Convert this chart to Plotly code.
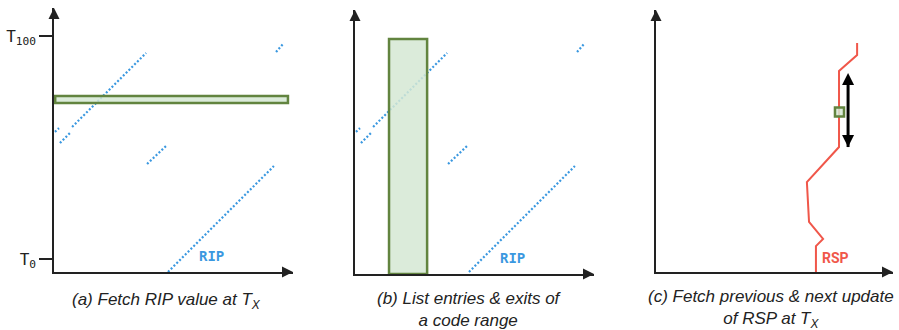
import plotly.graph_objects as go

W, H = 899, 330

# ---- data (address units on x, time units on y: T0 = 0, T100 = 100) ----
rip_seg_x = [[47.9, 92.4], [39.1, 47.5], [2.5, 6.7], [7.6, 38.7], [0.4, 2.1], [93.3, 96.6]]
rip_seg_t = [[-5.8, 41.7], [42.6, 51.1], [52.0, 56.5], [59.2, 92.4], [57.0, 58.7], [92.8, 96.9]]

rsp_x = [67.2, 67.2, 70.2, 64.3, 63.4, 70.2, 76.9, 76.9, 84.5, 84.5]
rsp_t = [-5.8, 5.8, 9.0, 16.6, 34.5, 42.6, 50.2, 84.3, 91.5, 96.9]

time_ticks = [0, 100]
time_tick_labels = ["T<sub>0</sub>", "T<sub>100</sub>"]

fetch_rip_x = [0.5, 98.3]      # (a) time window at Tx
fetch_rip_t = [70.0, 73.1]
code_range_x = [14.3, 30.3]    # (b) code range
code_range_t = [-6.7, 98.7]
rsp_query_x = [75.2, 79.0]     # (c) RSP at Tx
rsp_query_t = [63.9, 67.9]
rsp_prev_next_x = [80.7, 80.7]
rsp_prev_next_t = [50.2, 83.4]

captions = [
    "(a) Fetch RIP value at T<sub>X</sub>",
    "(b) List entries &amp; exits of<br>a code range",
    "(c) Fetch previous &amp; next update<br>of RSP at T<sub>X</sub>",
]

# ---- layout geometry (pixels) ----
PX_X, PX_T, T0_ROW = 2.38, 2.23, 259
panels = [  # origin x, right tip x, axis row, top tip y
    dict(x0=54, x1=293, yb=272, yt=8),
    dict(x0=355, x1=594, yb=274, yt=10),
    dict(x0=656, x1=893, yb=272, yt=10),
]

BLUE = "#3a98e0"
RED = "#f0574a"
GREEN_FILL = "rgba(213,232,212,0.85)"
GREEN_LINE = "#62843f"
AX = "#222222"

fig = go.Figure()
layout = dict(width=W, height=H, margin=dict(l=0, r=0, t=0, b=0, pad=0),
              paper_bgcolor="white", plot_bgcolor="rgba(0,0,0,0)", showlegend=False)

ranges = []
for i, p in enumerate(panels):
    sx = "" if i == 0 else str(i + 1)
    xr = [0, (p["x1"] - p["x0"]) / PX_X]
    yr = [(T0_ROW - p["yb"]) / PX_T, (T0_ROW - p["yt"]) / PX_T]
    ranges.append((xr, yr))
    xa = dict(domain=[p["x0"] / W, p["x1"] / W], range=xr,
              showline=True, linecolor=AX, linewidth=1.5, showgrid=False, zeroline=False,
              showticklabels=False, ticks="", fixedrange=True, anchor="y" + sx)
    ya = dict(domain=[(H - p["yb"]) / H, (H - p["yt"]) / H], range=yr,
              showline=True, linecolor=AX, linewidth=1.5, showgrid=False, zeroline=False,
              showticklabels=False, ticks="", fixedrange=True, anchor="x" + sx,
              automargin=False)
    if i == 0:
        ya.update(showticklabels=True, ticks="outside", ticklen=13, tickwidth=1.5,
                  tickcolor=AX, tickvals=time_ticks, ticktext=time_tick_labels,
                  tickfont=dict(family="DejaVu Sans Mono", size=16, color="#222"))
    layout["xaxis" + sx] = xa
    layout["yaxis" + sx] = ya

fig.update_layout(**layout)

annotations = []
shapes = []

# RIP traces in panels a and b
for i in (0, 1):
    sx = "" if i == 0 else str(i + 1)
    for xs, ts in zip(rip_seg_x, rip_seg_t):
        fig.add_trace(go.Scatter(x=xs, y=ts, mode="lines", xaxis="x" + sx, yaxis="y" + sx,
                                 line=dict(color=BLUE, width=2.2, dash="2px,2px"),
                                 hoverinfo="skip"))
    annotations.append(dict(x=66.0, y=1.4 if i == 0 else 0.4, xref="x" + sx, yref="y" + sx,
                            text="<b>RIP</b>", showarrow=False, xanchor="center", yanchor="middle",
                            font=dict(family="DejaVu Sans Mono", size=14, color=BLUE)))

# RSP trace in panel c
fig.add_trace(go.Scatter(x=rsp_x, y=rsp_t, mode="lines", xaxis="x3", yaxis="y3",
                         line=dict(color=RED, width=2), hoverinfo="skip"))
annotations.append(dict(x=75.6, y=0.4, xref="x3", yref="y3", text="<b>RSP</b>",
                        showarrow=False, xanchor="center", yanchor="middle",
                        font=dict(family="Roboto", size=14, color=RED)))

# highlight shapes
for xr_, yr_, r in ((fetch_rip_x, fetch_rip_t, ""), (code_range_x, code_range_t, "2"),
                    (rsp_query_x, rsp_query_t, "3")):
    shapes.append(dict(type="rect", xref="x" + r, yref="y" + r, x0=xr_[0], x1=xr_[1],
                       y0=yr_[0], y1=yr_[1], fillcolor=GREEN_FILL,
                       line=dict(color=GREEN_LINE, width=2.5), layer="above"))

# previous/next double arrow
fig.add_trace(go.Scatter(x=rsp_prev_next_x, y=rsp_prev_next_t, mode="lines+markers",
                         xaxis="x3", yaxis="y3", cliponaxis=False, hoverinfo="skip",
                         line=dict(color="black", width=3),
                         marker=dict(symbol=["arrow-down", "arrow-up"], size=12, color="black",
                                     line=dict(width=0))))

# axis arrowheads
for i, (xr, yr) in enumerate(ranges):
    sx = "" if i == 0 else str(i + 1)
    fig.add_trace(go.Scatter(x=[xr[1], xr[0]], y=[yr[0], yr[1]], mode="markers",
                             xaxis="x" + sx, yaxis="y" + sx, cliponaxis=False, hoverinfo="skip",
                             marker=dict(symbol=["arrow-right", "arrow-up"], size=11, color=AX,
                                         line=dict(width=0))))

# captions
cap_pos = [(166, 301), (470, 309), (771, 309)]
for txt, (cx, cy) in zip(captions, cap_pos):
    annotations.append(dict(x=cx / W, y=1 - cy / H, xref="paper", yref="paper",
                            text="<i>%s</i>" % txt, showarrow=False, align="center",
                            xanchor="center", yanchor="middle",
                            font=dict(family="Liberation Sans", size=17, color="#222")))

fig.update_layout(annotations=annotations, shapes=shapes)
fig.write_html("out.html", config={"displayModeBar": False},
               post_script="document.body.style.margin='0';")
